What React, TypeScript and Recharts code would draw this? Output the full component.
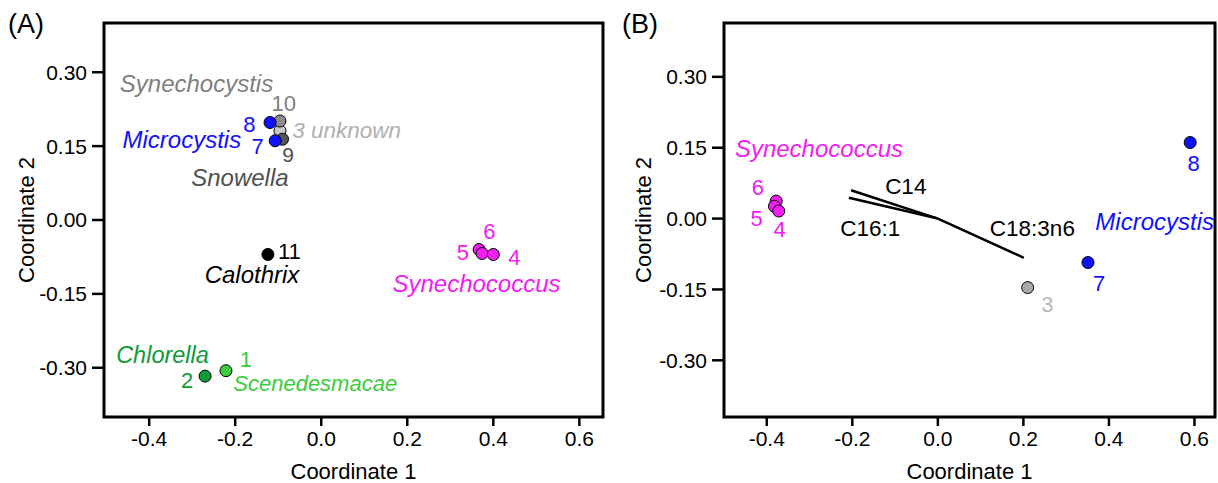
import { ScatterChart, Scatter, XAxis, YAxis, ReferenceArea, ReferenceLine } from 'recharts';

const FONT = '"Liberation Sans", Arial, Helvetica, sans-serif';

// colours
const BLUE = '#1010ff';
const MAGENTA = '#f020f0';
const DARK_GREEN = '#0f9a3c';
const LIGHT_GREEN = '#3ccc3c';

// ---- panel A : samples (drawn in this order so overlaps look right)
const aSamples = ['1', '2', '11', '3', '9', '10', '8', '7', '6', '5', '4'];
const aX = [-0.2215, -0.27, -0.124, -0.096, -0.09, -0.096, -0.119, -0.107, 0.367, 0.374, 0.4];
const aY = [-0.306, -0.317, -0.07, 0.181, 0.164, 0.201, 0.198, 0.161, -0.06, -0.068, -0.07];
const aFill = [LIGHT_GREEN, DARK_GREEN, '#000000', '#c8c8c8', '#555555', '#8c8c8c', BLUE, BLUE, MAGENTA, MAGENTA, MAGENTA];

// panel A annotations
const aNoteText = ['Synechocystis', '10', '8', '3 unknown', 'Microcystis', '7', '9', 'Snowella', '11', 'Calothrix', '6', '5', '4', 'Synechococcus', 'Chlorella', '1', '2', 'Scenedesmacae'];
const aNoteX = [-0.29, -0.087, -0.167, 0.059, -0.324, -0.148, -0.077, -0.189, -0.074, -0.161, 0.391, 0.329, 0.449, 0.361, -0.369, -0.175, -0.312, -0.014];
const aNoteY = [0.278, 0.236, 0.194, 0.182, 0.164, 0.149, 0.134, 0.086, -0.063, -0.111, -0.024, -0.065, -0.077, -0.128, -0.274, -0.283, -0.326, -0.331];
const aNoteColor = ['#7f7f7f', '#7f7f7f', BLUE, '#b0b0b0', BLUE, BLUE, '#505050', '#505050', '#000000', '#000000', MAGENTA, MAGENTA, MAGENTA, MAGENTA, DARK_GREEN, LIGHT_GREEN, DARK_GREEN, LIGHT_GREEN];
const aNoteItalic = [true, false, false, true, true, false, false, true, false, true, false, false, false, true, true, false, false, true];
const aNoteSize = [24, 22, 22, 22.5, 24, 22, 21, 24, 22, 24, 22, 22, 22, 24, 23.5, 22, 22, 22];

// ---- panel B : samples
const bSamples = ['6', '5', '4', '3', '7', '8'];
const bX = [-0.378, -0.382, -0.372, 0.21, 0.351, 0.59];
const bY = [0.037, 0.026, 0.016, -0.146, -0.093, 0.161];
const bFill = [MAGENTA, MAGENTA, MAGENTA, '#a8a8a8', BLUE, BLUE];

// panel B fatty acid vectors (from origin)
const bVarNames = ['C14', 'C16:1', 'C18:3n6'];
const bVarX = [-0.203, -0.208, 0.201];
const bVarY = [0.06, 0.044, -0.083];

// panel B annotations
const bNoteText = ['Synechococcus', '6', '5', '4', 'C14', 'C16:1', 'C18:3n6', 'Microcystis', '8', '7', '3'];
const bNoteX = [-0.278, -0.421, -0.424, -0.37, -0.075, -0.158, 0.221, 0.507, 0.598, 0.377, 0.256];
const bNoteY = [0.149, 0.065, 0.001, -0.024, 0.067, -0.022, -0.022, -0.007, 0.116, -0.137, -0.181];
const bNoteColor = [MAGENTA, MAGENTA, MAGENTA, MAGENTA, '#000000', '#000000', '#000000', BLUE, BLUE, BLUE, '#b8b8b8'];
const bNoteItalic = [true, false, false, false, false, false, false, true, false, false, false];
const bNoteSize = [24, 22, 22, 22, 22.5, 22.5, 22.5, 24, 22, 22, 22];

const xTicks = [-0.4, -0.2, 0, 0.2, 0.4, 0.6];
const yTicks = [-0.3, -0.15, 0, 0.15, 0.3];

const aXDomain = [-0.505, 0.655];
const aYDomain = [-0.4, 0.4];
const bXDomain = [-0.5, 0.648];
const bYDomain = [-0.42, 0.414];

const dots = (names: string[], xs: number[], ys: number[], fills: string[]) =>
  names.map((n, i) => ({ name: n, x: xs[i], y: ys[i], fill: fills[i] }));

const notes = (texts: string[], xs: number[], ys: number[], colors: string[], italic: boolean[], sizes: number[]) =>
  texts.map((t, i) => ({ text: t, x: xs[i], y: ys[i], color: colors[i], italic: italic[i], size: sizes[i] }));

const Dot = (props: any) => (
  <circle cx={props.cx} cy={props.cy} r={6} fill={props.payload.fill} stroke="#000" strokeWidth={1} />
);

const Note = (props: any) => {
  const p = props.payload;
  return (
    <text
      x={props.cx}
      y={props.cy}
      textAnchor="middle"
      dominantBaseline="central"
      fill={p.color}
      fontFamily={FONT}
      fontSize={p.size}
      fontStyle={p.italic ? 'italic' : 'normal'}
    >
      {p.text}
    </text>
  );
};

const tickStyle = { fontSize: 21, fill: '#000', fontFamily: FONT };

function Panel({ width, yAxisWidth, marginRight, xDomain, yDomain, data, noteData, vectors, yLabelX }: any) {
  return (
    <ScatterChart width={width} height={483} margin={{ top: 23, right: marginRight, bottom: 0, left: 0 }}>
      <XAxis
        type="number"
        dataKey="x"
        domain={xDomain}
        allowDataOverflow
        ticks={xTicks}
        tickFormatter={(v: number) => v.toFixed(1)}
        axisLine={false}
        tickLine={{ stroke: '#000', strokeWidth: 2.5 }}
        tickSize={9}
        tickMargin={5}
        tick={tickStyle}
        height={66}
        label={{
          content: (p: any) => {
            const vb = p.viewBox;
            return (
              <text x={vb.x + vb.width / 2} y={479} textAnchor="middle" fontSize={22} fontFamily={FONT} fill="#000">
                Coordinate 1
              </text>
            );
          },
        }}
      />
      <YAxis
        type="number"
        dataKey="y"
        domain={yDomain}
        allowDataOverflow
        ticks={yTicks}
        tickFormatter={(v: number) => v.toFixed(2)}
        axisLine={false}
        tickLine={{ stroke: '#000', strokeWidth: 2.5 }}
        tickSize={12}
        tickMargin={5}
        tick={tickStyle}
        width={yAxisWidth}
        label={{
          content: (p: any) => {
            const vb = p.viewBox;
            const cy = vb.y + vb.height / 2;
            return (
              <text
                x={yLabelX}
                y={cy}
                textAnchor="middle"
                dominantBaseline="central"
                transform={`rotate(-90, ${yLabelX}, ${cy})`}
                fontSize={22}
                fontFamily={FONT}
                fill="#000"
              >
                Coordinate 2
              </text>
            );
          },
        }}
      />
      <ReferenceArea
        x1={xDomain[0]}
        x2={xDomain[1]}
        y1={yDomain[0]}
        y2={yDomain[1]}
        fill="none"
        fillOpacity={0}
        stroke="#000"
        strokeWidth={3}
        ifOverflow="visible"
      />
      {vectors &&
        vectors.map((v: any) => (
          <ReferenceLine
            key={v.name}
            segment={[{ x: 0, y: 0 }, { x: v.x, y: v.y }]}
            stroke="#000"
            strokeWidth={2.5}
          />
        ))}
      <Scatter data={data} shape={Dot} isAnimationActive={false} />
      <Scatter data={noteData} shape={Note} isAnimationActive={false} />
    </ScatterChart>
  );
}

export default function App() {
  const aData = dots(aSamples, aX, aY, aFill);
  const bData = dots(bSamples, bX, bY, bFill);
  const aNotes = notes(aNoteText, aNoteX, aNoteY, aNoteColor, aNoteItalic, aNoteSize);
  const bNotes = notes(bNoteText, bNoteX, bNoteY, bNoteColor, bNoteItalic, bNoteSize);
  const bVectors = bVarNames.map((n, i) => ({ name: n, x: bVarX[i], y: bVarY[i] }));

  const panelLabel = { position: 'absolute' as const, top: 11, fontSize: 27, lineHeight: 1, fontFamily: FONT, color: '#000' };

  return (
    <div style={{ position: 'absolute', left: 0, top: 0, width: 1218, height: 483, background: '#fff', overflow: 'hidden' }}>
      <div style={{ position: 'absolute', left: 0, top: 0 }}>
        <Panel width={610} yAxisWidth={104} marginRight={7} xDomain={aXDomain} yDomain={aYDomain} data={aData} noteData={aNotes} yLabelX={26} />
      </div>
      <div style={{ position: 'absolute', left: 610, top: 0 }}>
        <Panel width={608} yAxisWidth={114} marginRight={3} xDomain={bXDomain} yDomain={bYDomain} data={bData} noteData={bNotes} vectors={bVectors} yLabelX={33} />
      </div>
      <div style={{ ...panelLabel, left: 8 }}>(A)</div>
      <div style={{ ...panelLabel, left: 622 }}>(B)</div>
    </div>
  );
}
